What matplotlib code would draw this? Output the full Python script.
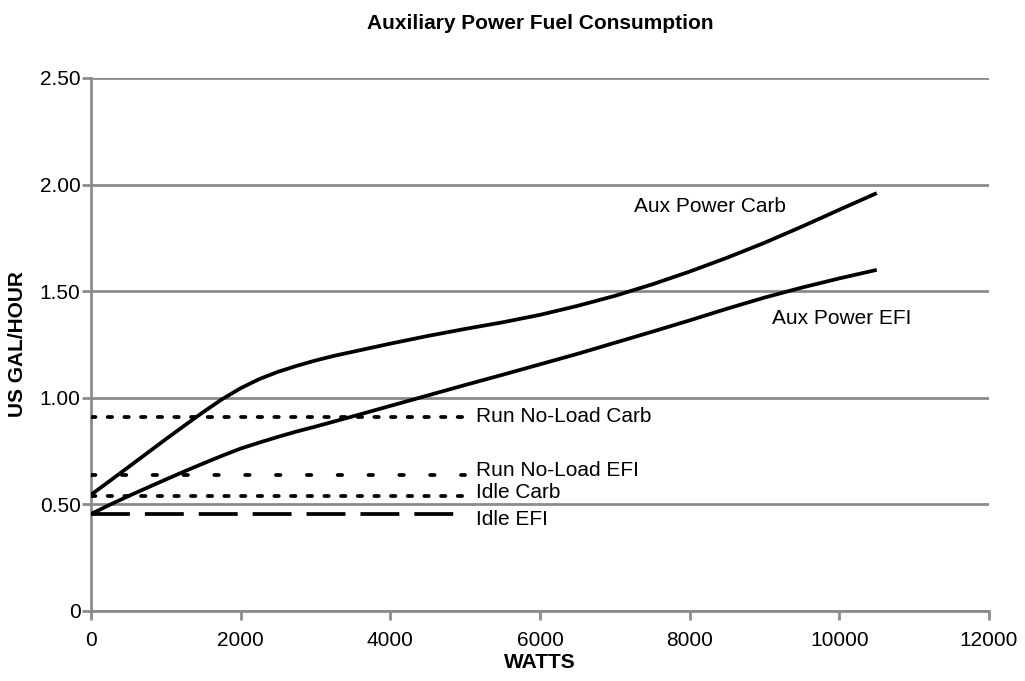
import matplotlib
matplotlib.use("Agg")
import matplotlib.pyplot as plt

plt.rcParams["font.family"] = ["Liberation Sans", "DejaVu Sans"]
plt.rcParams["lines.scale_dashes"] = False

# curve data (watts, US gal/hour)
carb_watts = [0, 500, 1000, 1250, 1500, 1750, 2000, 2250, 2500, 2750, 3000, 3250, 3500,
              3750, 4000, 4500, 5000, 5500, 6000, 6500, 7000, 7500, 8000, 8500, 9000,
              9500, 10000, 10500]
carb = [0.545, 0.675, 0.806, 0.87, 0.933, 0.993, 1.045, 1.088, 1.122, 1.15, 1.175,
        1.197, 1.216, 1.235, 1.254, 1.29, 1.323, 1.354, 1.389, 1.431, 1.478, 1.532,
        1.592, 1.657, 1.727, 1.803, 1.882, 1.96]

efi_watts = [0, 250, 500, 750, 1000, 1250, 1500, 1750, 2000, 2250, 2500, 2750, 3000,
             3500, 4000, 4500, 5000, 5500, 6000, 6500, 7000, 7500, 8000, 8500, 9000,
             9500, 10000, 10500]
efi = [0.455, 0.498, 0.539, 0.578, 0.617, 0.655, 0.692, 0.728, 0.762, 0.79, 0.817,
       0.842, 0.865, 0.913, 0.962, 1.011, 1.06, 1.108, 1.157, 1.206, 1.258, 1.31,
       1.363, 1.418, 1.47, 1.517, 1.56, 1.60]

# constant reference levels, drawn from 0 to 5000 W
ref_names = ["Run No-Load Carb", "Run No-Load EFI", "Idle Carb", "Idle EFI"]
ref_values = [0.91, 0.64, 0.54, 0.455]
ref_end = 5000

xticks = [0, 2000, 4000, 6000, 8000, 10000, 12000]
yticks = [0, 0.5, 1.0, 1.5, 2.0, 2.5]
ytick_labels = ["0", "0.50", "1.00", "1.50", "2.00", "2.50"]

grey = "#8c8c8c"
lw = 2.7

fig = plt.figure(figsize=(10.25, 6.81), dpi=100)
ax = fig.add_axes([0.0888, 0.1028, 0.8761, 0.7827])

ax.plot(carb_watts, carb, color="black", lw=lw, solid_capstyle="butt",
        solid_joinstyle="round", zorder=3)
ax.plot(efi_watts, efi, color="black", lw=lw, solid_capstyle="butt",
        solid_joinstyle="round", zorder=3)

dash_styles = [(0, (3.2, 8.8)), (0, (3.2, 19.0)), (0, (3.2, 8.8)), (0, (28, 10.8))]
caps = ["round", "round", "round", "butt"]
for val, ds, cap in zip(ref_values, dash_styles, caps):
    ax.plot([0, ref_end], [val, val], color="black", lw=lw, linestyle=ds,
            dash_capstyle=cap, zorder=3)

fs = 15
label_offsets = [0.0, 0.02, 0.015, -0.025]
for name, val, off in zip(ref_names, ref_values, label_offsets):
    ax.text(5145, val + off, name, fontsize=fs, va="center", ha="left")
ax.text(7256, 1.895, "Aux Power Carb", fontsize=fs, va="center", ha="left")
ax.text(9100, 1.374, "Aux Power EFI", fontsize=fs, va="center", ha="left")

ax.set_xlim(0, 12000)
ax.set_ylim(0, 2.5)
ax.set_xticks(xticks)
ax.set_xticklabels([str(t) for t in xticks])
ax.set_yticks(yticks)
ax.set_yticklabels(ytick_labels)

ax.grid(axis="y", color=grey, lw=2)
ax.set_axisbelow(True)
for side in ["top", "right"]:
    ax.spines[side].set_visible(False)
for side in ["left", "bottom"]:
    ax.spines[side].set_color(grey)
    ax.spines[side].set_linewidth(2)
ax.tick_params(colors=grey, width=2, length=6.5, labelcolor="black", labelsize=fs)
ax.tick_params(axis="y", pad=1)
ax.tick_params(axis="x", pad=8)

ax.set_xlabel("WATTS", fontsize=fs, fontweight="bold", labelpad=2)
ax.set_ylabel("US GAL/HOUR", fontsize=fs, fontweight="bold", labelpad=9)
fig.text(0.527, 0.966, "Auxiliary Power Fuel Consumption", fontsize=fs,
         fontweight="bold", ha="center", va="center")

fig.savefig("out.png", dpi=100)
